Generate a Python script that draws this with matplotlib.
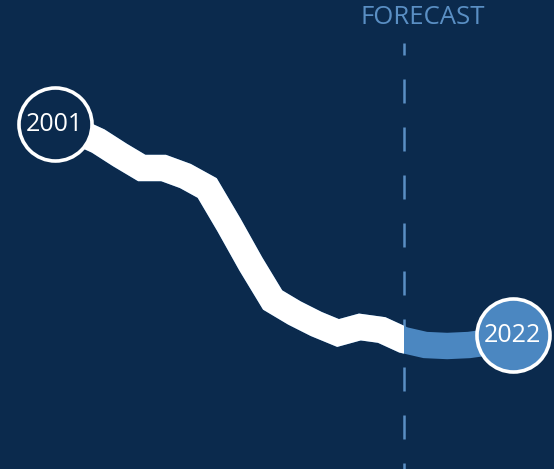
import matplotlib
matplotlib.use("Agg")
import matplotlib.pyplot as plt
from matplotlib.patches import Rectangle

plt.rcParams['font.family'] = ['Open Sans', 'DejaVu Sans']

# index values by year (2001 = 100), last years are the forecast
years = list(range(2001, 2023))
values = [100, 98.25, 95.75, 92.25, 89, 89, 87, 84, 74.75, 65, 56,
          52.75, 50, 47.75, 49.25, 48.5, 46, 44.75, 44.5, 44.75, 45.5, 47.25]
forecast_start = 2017
forecast_label = "FORECAST"

BG = '#0b2a4d'
BLUE = '#4b87c1'
DASH = '#5a8fc4'

fig = plt.figure(figsize=(5.54, 4.69), dpi=100)
fig.patch.set_facecolor(BG)
ax = fig.add_axes([0, 0, 1, 1])
ax.set_facecolor(BG)
ax.set_xlim(1998.50, 2023.90)
ax.set_ylim(13.75, 131)
ax.axis('off')

# forecast divider
ax.plot([forecast_start, forecast_start], [120.25, 13.75], color=DASH,
        lw=1.8, zorder=1, linestyle=(4.8, (9.6, 9.6)))
ax.text(0.7635, 0.962, forecast_label, transform=ax.transAxes, ha='center',
        va='center', fontsize=18.5, color=DASH)

# full series in blue, then the history part in white on top
ax.plot(years, values, color=BLUE, lw=19, solid_capstyle='butt',
        solid_joinstyle='miter', zorder=2)
hist, = ax.plot(years, values, color='white', lw=19, solid_capstyle='butt',
                solid_joinstyle='miter', zorder=3)
clip = Rectangle((1998.5, 13.75), forecast_start - 1998.5, 131 - 13.75,
                 transform=ax.transData)
hist.set_clip_path(clip)

# end markers
ax.scatter([years[0]], [values[0]], s=2765, color=BG, edgecolor='white',
           linewidth=2.6, zorder=4)
ax.scatter([years[-1]], [values[-1]], s=2765, color=BLUE, edgecolor='white',
           linewidth=2.6, zorder=4)
ax.text(years[0], values[0], str(years[0]), ha='center', va='center',
        fontsize=18, color='white', zorder=5)
ax.text(years[-1], values[-1], str(years[-1]), ha='center', va='center',
        fontsize=18, color='white', zorder=5)

fig.savefig('out.png', dpi=100, facecolor=BG)
